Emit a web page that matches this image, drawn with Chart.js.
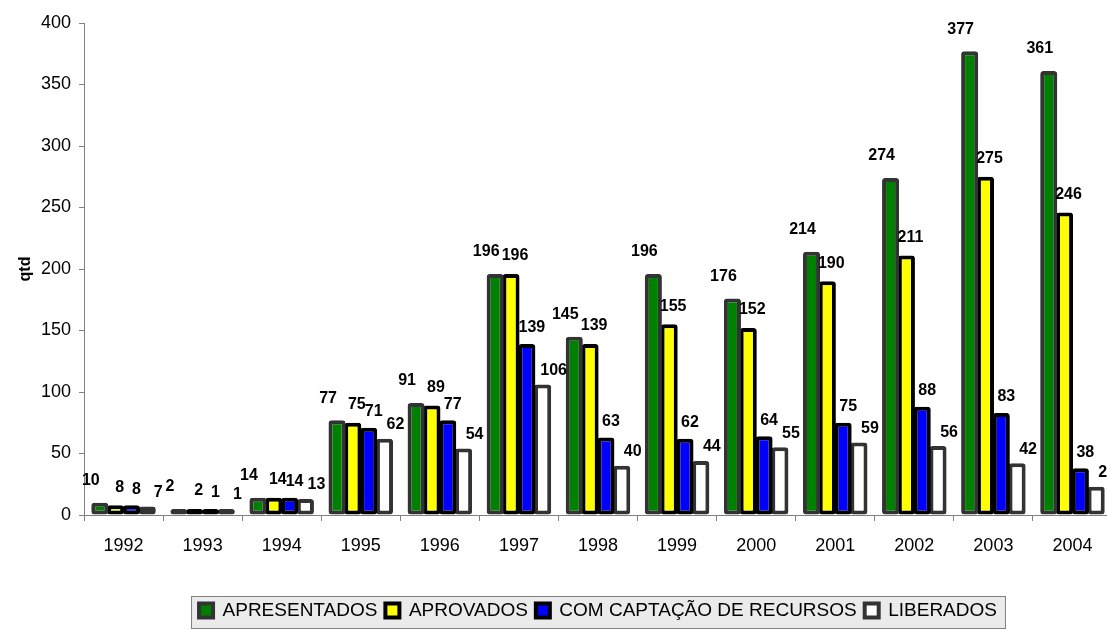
<!DOCTYPE html>
<html>
<head>
<meta charset="utf-8">
<script src="https://cdn.jsdelivr.net/npm/chart.js@4.4.1/dist/chart.umd.min.js"></script>
<style>
  html, body { margin: 0; padding: 0; background: #fff; overflow: hidden; }
  canvas { display: block; }
</style>
</head>
<body>
<canvas id="chart" width="1112" height="630"></canvas>
<script>
// Values
const years = ['1992','1993','1994','1995','1996','1997','1998','1999','2000','2001','2002','2003','2004'];
const apresentados = [10, 2, 14, 77, 91, 196, 145, 196, 176, 214, 274, 377, 361];
const aprovados    = [8, 2, 14, 75, 89, 196, 139, 155, 152, 190, 211, 275, 246];
const comCaptacao  = [8, 1, 14, 71, 77, 139, 63, 62, 64, 75, 88, 83, 38];
const liberados    = [7, 1, 13, 62, 54, 106, 40, 44, 55, 59, 56, 42, 23];

const FONT = '"Liberation Sans", Arial, sans-serif';
Chart.defaults.font.family = FONT;
Chart.defaults.color = '#000';

// value labels above each bar, nudged per series like the original
const labelDx = [-9, 4, 5, 11];
const labelDy = [22, 18, 16, 14];
const barLabels = {
  id: 'barLabels',
  afterDatasetsDraw(chart) {
    const ctx = chart.ctx;
    ctx.save();
    ctx.font = 'bold 16px ' + FONT;
    ctx.fillStyle = '#000';
    ctx.textAlign = 'center';
    ctx.textBaseline = 'middle';
    chart.data.datasets.forEach((ds, i) => {
      chart.getDatasetMeta(i).data.forEach((bar, j) => {
        ctx.fillText(ds.data[j], bar.x + labelDx[i], bar.y - labelDy[i]);
      });
    });
    ctx.restore();
  }
};

// grey framed box behind the legend
const legendBox = {
  id: 'legendBox',
  beforeDraw(chart) {
    const lg = chart.legend;
    if (!lg || !lg.legendHitBoxes.length) return;
    const hb = lg.legendHitBoxes;
    const left = Math.min(...hb.map(h => h.left)) - 8;
    const right = Math.max(...hb.map(h => h.left + h.width)) + 9;
    const top = lg.top + 3, bottom = lg.bottom - 1;
    const ctx = chart.ctx;
    ctx.save();
    ctx.fillStyle = '#ebebeb';
    ctx.fillRect(left, top, right - left, bottom - top);
    ctx.strokeStyle = '#808080';
    ctx.lineWidth = 1;
    ctx.strokeRect(left + 0.5, top + 0.5, right - left - 1, bottom - top - 1);
    ctx.restore();
  }
};

function series(label, data, fill, border) {
  return {
    label, data,
    backgroundColor: fill,
    borderColor: border,
    borderWidth: 4,
    borderRadius: 3,
    borderSkipped: false,
    minBarLength: 6,
    barPercentage: 1.08,
    categoryPercentage: 0.8
  };
}

new Chart(document.getElementById('chart'), {
  type: 'bar',
  data: {
    labels: years,
    datasets: [
      series('APRESENTADOS', apresentados, '#008000', '#333333'),
      series('APROVADOS', aprovados, '#ffff00', '#000000'),
      series('COM CAPTAÇÃO DE RECURSOS', comCaptacao, '#0000ff', '#000000'),
      series('LIBERADOS', liberados, '#ffffff', '#333333')
    ]
  },
  options: {
    responsive: false,
    animation: false,
    layout: { padding: { top: 23, right: 0, bottom: 0, left: 0 } },
    plugins: {
      tooltip: { enabled: false },
      legend: {
        position: 'bottom',
        fullSize: false,
        labels: {
          color: '#000',
          font: { size: 19 },
          boxWidth: 14,
          boxHeight: 14,
          padding: 8
        }
      }
    },
    scales: {
      x: {
        grid: { display: true, drawOnChartArea: false, color: '#808080', tickLength: 6, offset: true },
        border: { color: '#808080', width: 1 },
        ticks: { font: { size: 18 }, color: '#000', padding: 14, maxRotation: 0 },
        afterFit(scale) { scale.height = 78; }
      },
      y: {
        min: 0,
        max: 400,
        grid: { display: true, drawOnChartArea: false, color: '#808080', tickLength: 5 },
        border: { color: '#808080', width: 1 },
        ticks: { stepSize: 50, font: { size: 18 }, color: '#000', padding: 8 },
        title: { display: true, text: 'qtd', font: { size: 16, weight: 'bold' }, color: '#000', padding: { top: 16, bottom: 0 } },
        afterFit(scale) { scale.width = 84; }
      }
    }
  },
  plugins: [legendBox, barLabels]
});
</script>
</body>
</html>
